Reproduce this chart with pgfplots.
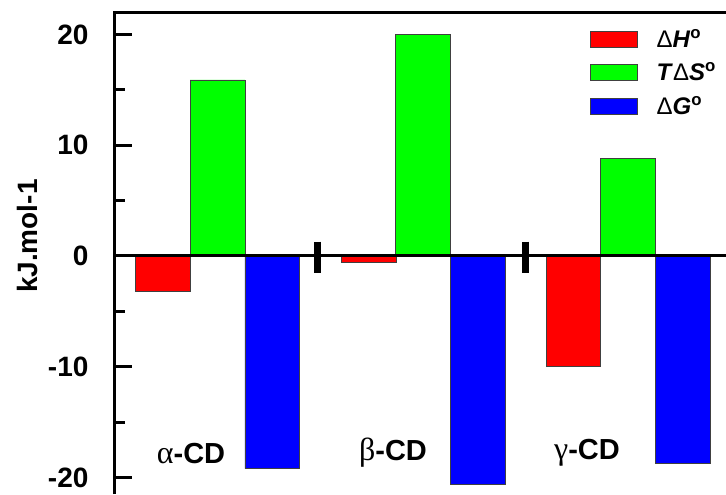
\documentclass[border=0pt]{standalone}
\usepackage{fontspec}
\setmainfont{Liberation Sans}
\newfontfamily\grk{Liberation Serif}
\usepackage{pgfplots}
\pgfplotsset{compat=1.18}
\begin{document}
\begin{tikzpicture}
\begin{axis}[
  name=ax,
  scale only axis,
  width=611pt, height=481pt,
  xmin=-0.4993, xmax=2.4769,
  ymin=-21.5, ymax=21.95,
  axis line style={draw=none},
  clip=false,
  xtick=\empty,
  ytick={-20,-10,0,10,20},
  yticklabels={-20,-10,0,10,20},
  minor ytick={-15,-5,5,15},
  ytick pos=left,
  tick align=inside,
  major tick length=17pt,
  minor tick length=10pt,
  every tick/.style={black, line width=3pt},
  yticklabel style={font=\bfseries\fontsize{28}{30}\selectfont, xshift=-23pt},
  ylabel={\bfseries kJ.mol-1},
  ylabel style={font=\fontsize{28}{30}\selectfont, at={(rel axis cs:-0.144,0.536)}, anchor=center, rotate=0},
  ybar, bar shift=0pt, bar width=0.267,
  legend cell align=left,
  legend image code/.code={\draw[#1] (0pt,-8pt) rectangle (47pt,8pt);},
  legend style={draw=none, fill=none, at={(rel axis cs:0.772,0.975)}, anchor=north west,
    font=\fontsize{24}{26}\selectfont, row sep=10pt,
    /tikz/every odd column/.style={column sep=17pt}},
]
\addplot[fill=red, draw=black!75, line width=0.8pt] coordinates {(-0.267,-3.2) (0.7355,-0.57) (1.734,-9.95)};
\addplot[fill={rgb,255:red,0;green,255;blue,0}, draw=black!75, line width=0.8pt] coordinates {(0,15.9) (1.001,20.05) (2.0,8.85)};
\addplot[fill=blue, draw=black!75, line width=0.8pt] coordinates {(0.267,-19.2) (1.268,-20.6) (2.267,-18.75)};
\legend{{\mdseries Δ}\textbf{\textit{H}}\textsuperscript{\textbf{o}},
        \textbf{\textit{T}}{\mdseries Δ}\textbf{\textit{S}}\textsuperscript{\textbf{o}},
        {\mdseries Δ}\textbf{\textit{G}}\textsuperscript{\textbf{o}}}
\draw[black, line width=3pt] (axis cs:-0.4993,0) -- (axis cs:2.4769,0);
\draw[black, line width=3pt] (rel axis cs:0,0) -- (rel axis cs:0,1) -- (rel axis cs:1,1);
\draw[black, line width=7pt] (axis cs:0.487,1.3) -- (axis cs:0.487,-1.5);
\draw[black, line width=7pt] (axis cs:1.498,1.3) -- (axis cs:1.498,-1.5);
\node[font=\fontsize{29}{31}\selectfont] at (axis cs:-0.129,-17.8) {{\grk\fontsize{32}{34}\selectfont α}\textbf{-CD}};
\node[font=\fontsize{29}{31}\selectfont] at (axis cs:0.855,-17.8) {{\grk\fontsize{32}{34}\selectfont β}\textbf{-CD}};
\node[font=\fontsize{29}{31}\selectfont] at (axis cs:1.80,-17.8) {{\grk\fontsize{32}{34}\selectfont γ}\textbf{-CD}};
\end{axis}
\path (ax.south west) ++(-115pt,0pt) coordinate (bl);
\path (ax.north east) ++(0pt,13pt) coordinate (tr);
\pgfresetboundingbox
\path[use as bounding box] (bl) rectangle (tr);
\end{tikzpicture}
\end{document}
